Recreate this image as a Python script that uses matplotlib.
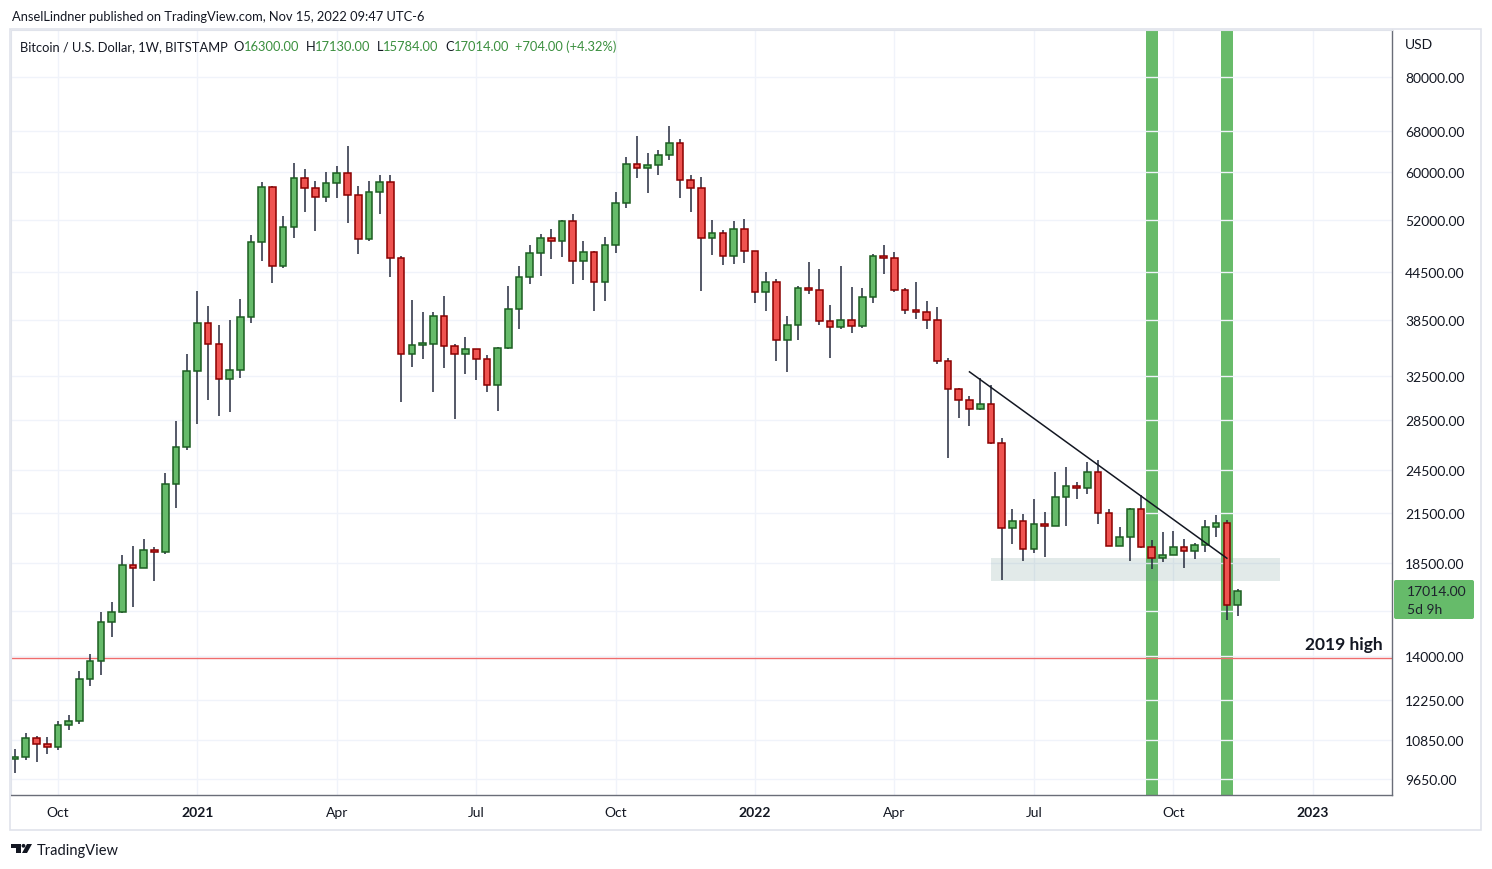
import numpy as np
import pandas as pd
import matplotlib
matplotlib.use("Agg")
import matplotlib.pyplot as plt
from matplotlib.patches import Rectangle, Polygon, Circle, FancyBboxPatch

plt.rcParams['font.family'] = ['Lato', 'DejaVu Sans']

# weekly BTCUSD (Bitstamp), week starting 2020-09-07
first_week = '2020-09-07'
opens = [10260, 10330, 10920, 10740, 10640, 11360, 11500, 13030, 13780, 15480,
         15960, 18400, 18200, 19250, 19100, 23470, 26250, 33000, 38150, 35800,
         32200, 33100, 38800, 48600, 57400, 45250, 50900, 58950, 57300, 55700,
         58100, 59800, 56100, 49100, 56600, 58300, 46400, 34700, 35700, 35800,
         38900, 35560, 34700, 35230, 34190, 31650, 35340, 39800, 43800, 47100,
         49230, 48750, 51800, 45900, 47180, 43110, 48150, 54650, 61460, 60700,
         61300, 63150, 65550, 58580, 57190, 49300, 50040, 46600, 50650, 47300,
         41800, 43110, 36170, 37840, 42300, 42050, 38300, 37600, 38420, 37730,
         41170, 46700, 46300, 42050, 39600, 39400, 38420, 33950, 31220, 30200,
         29380, 29830, 26530, 20540, 20970, 19270, 20780, 20700, 22550, 23300,
         23200, 24300, 21490, 19500, 19980, 21800, 19400, 18760, 18980, 19400,
         19200, 19550, 20600, 20850, 16300]
highs = [10560, 11080, 11000, 10950, 11480, 11700, 13350, 14060, 15960, 16450,
         18940, 19450, 19870, 19400, 24250, 28370, 34700, 41950, 40100, 37900,
         38500, 40960, 49660, 58300, 57500, 52570, 61750, 60600, 58500, 60000,
         61200, 64900, 57600, 58500, 59500, 59500, 46600, 40850, 39400, 39400,
         41320, 35770, 36530, 35230, 34630, 35450, 42600, 45250, 48170, 49850,
         50600, 52000, 52850, 48750, 47300, 49400, 56570, 62840, 66950, 63580,
         64080, 69000, 66300, 59500, 59200, 52000, 50500, 51850, 52200, 47400,
         44380, 43500, 38900, 42600, 45800, 44800, 40240, 45200, 42500, 42300,
         46850, 48200, 47200, 42400, 43100, 40700, 40000, 34250, 31300, 30600,
         32250, 31600, 26950, 21800, 21450, 22460, 21600, 24300, 24700, 23600,
         25100, 25250, 21800, 20600, 21850, 22730, 19830, 20330, 20400, 19890,
         19650, 21050, 21400, 21050, 17130]
lows = [9830, 10220, 10150, 10400, 10530, 11200, 11400, 12770, 13200, 14800,
        15900, 16200, 18200, 17550, 19000, 21830, 26000, 28130, 30200, 28800,
        29150, 32280, 38100, 45900, 42960, 45000, 49240, 53300, 50300, 54900,
        55500, 51550, 46900, 48800, 52950, 43750, 30030, 33380, 34200, 30960,
        33290, 28540, 32690, 32100, 30960, 29240, 35230, 37450, 42900, 43900,
        46200, 46500, 42870, 43430, 39550, 40750, 47000, 53900, 59030, 56450,
        59550, 62260, 55600, 53300, 42000, 46800, 45450, 45550, 45700, 40500,
        39550, 34000, 32900, 36200, 41600, 37900, 34330, 37400, 37000, 37520,
        40500, 44200, 41850, 39200, 38550, 37450, 33700, 25400, 28600, 27980,
        29300, 26500, 17570, 19600, 18600, 19050, 18850, 20700, 20700, 22460,
        22800, 20780, 19500, 19450, 18600, 19340, 18150, 18550, 18980, 18200,
        18700, 19150, 20000, 15560, 15784]
closes = [10330, 10920, 10740, 10640, 11360, 11500, 13030, 13780, 15480, 15960,
          18400, 18200, 19250, 19100, 23470, 26250, 33000, 38150, 35800, 32200,
          33100, 38800, 48600, 57400, 45250, 50900, 58950, 57300, 55700, 58100,
          59800, 56100, 49100, 56600, 58300, 46400, 34700, 35700, 35800, 38900,
          35560, 34700, 35230, 34190, 31650, 35340, 39800, 43800, 47100, 49230,
          48750, 51800, 45900, 47180, 43110, 48150, 54650, 61460, 60700, 61300,
          63150, 65550, 58580, 57190, 49300, 50040, 46600, 50650, 47300, 41800,
          43110, 36170, 37840, 42300, 42050, 38300, 37600, 38420, 37730, 41170,
          46700, 46300, 42050, 39600, 39400, 38420, 33950, 31220, 30200, 29380,
          29830, 26530, 20540, 20970, 19270, 20780, 20700, 22550, 23300, 23200,
          24300, 21490, 19500, 19980, 21800, 19400, 18760, 18980, 19400, 19200,
          19550, 20600, 20850, 16310, 17014]

price_ticks = [80000, 68000, 60000, 52000, 44500, 38500, 32500, 28500, 24500,
               21500, 18500, 16000, 14000, 12250, 10850, 9650]
high_2019 = 13880
trend_dates = ['2022-05-23', '2022-11-07']
trend_prices = [32900, 18770]
zone_dates = ['2022-06-06', '2022-12-12']
zone_prices = [17520, 18770]
band_dates = ['2022-09-19', '2022-11-07']

W, H = 1492, 870
fig = plt.figure(figsize=(W / 100, H / 100), dpi=100)
fig.patch.set_facecolor('white')

weeks = pd.date_range(first_week, periods=129, freq='7D')
def widx(d):
    return int(np.where(weeks == pd.Timestamp(d))[0][0])

n = len(closes)
x = np.arange(n)
o = np.array(opens, float); c = np.array(closes, float)
h = np.array(highs, float); l = np.array(lows, float)
up = c >= o

ax = fig.add_axes([11 / W, (H - 796) / H, (1392 - 11) / W, (796 - 31) / H])
ax.set_yscale('log')

# highlighted weeks
for d in band_dates:
    i = widx(d)
    ax.axvspan(i - 0.55, i + 0.55, color='#68bb6a', lw=0, zorder=0.5)
# support zone
ax.fill_between([widx(zone_dates[0]), widx(zone_dates[1])], zone_prices[0], zone_prices[1],
                color='#5f8f8a', alpha=0.18, lw=0, zorder=0.6)

ax.axhline(high_2019, color='#ef6c6c', lw=1, zorder=0.7)
ax.vlines(x, l, h, color='#262b3e', lw=1.1, zorder=1)
body_lo = np.minimum(o, c)
body_h = np.maximum(np.abs(c - o), body_lo * 0.004)
ax.bar(x[up], body_h[up], bottom=body_lo[up], width=0.62, color='#66bb6a',
       edgecolor='#1b5e20', linewidth=1.1, zorder=2)
ax.bar(x[~up], body_h[~up], bottom=body_lo[~up], width=0.62, color='#ef5350',
       edgecolor='#8b0000', linewidth=1.1, zorder=2)

ax.plot([widx(d) for d in trend_dates], trend_prices, color='#131722', lw=1.1, zorder=3)
ax.annotate('2019 high', xy=(1.0, high_2019), xycoords=('axes fraction', 'data'),
            xytext=(-9, 6), textcoords='offset pixels', ha='right', va='bottom',
            fontsize=12.5, fontweight='bold', color='#131722')

# axes
ax.yaxis.tick_right()
ax.set_yticks(price_ticks)
ax.set_yticklabels(['' if p == 16000 else '%.2f' % p for p in price_ticks])
ax.yaxis.set_minor_locator(matplotlib.ticker.NullLocator())
xt, xl = [], []
for i in range(1, len(weeks)):
    if weeks[i].month in (1, 4, 7, 10) and weeks[i].month != weeks[i - 1].month:
        xt.append(i)
        xl.append(str(weeks[i].year) if weeks[i].month == 1 else weeks[i].strftime('%b'))
ax.set_xticks(xt)
ax.set_xticklabels(xl)
for t in ax.get_xticklabels():
    if t.get_text().isdigit():
        t.set_fontweight('bold')
ax.set_ylim(9200, 92100)
ax.set_xlim(-0.38, 128.4)
ax.tick_params(axis='y', length=0, pad=9.5, labelsize=10, labelcolor='#131722')
ax.tick_params(axis='x', length=0, pad=8, labelsize=10, labelcolor='#131722')
ax.grid(True, color='#f0f3fa', lw=1)
ax.set_axisbelow(True)
for s in ['left', 'top']:
    ax.spines[s].set_color('#e0e3eb')
for s in ['right', 'bottom']:
    ax.spines[s].set_color('#6a6d78')
    ax.spines[s].set_linewidth(1)

# overlay for frame, header and labels
ov = fig.add_axes([0, 0, 1, 1], zorder=5)
ov.set_xlim(0, W); ov.set_ylim(H, 0); ov.axis('off'); ov.patch.set_alpha(0)
ov.add_patch(Rectangle((10, 30), 1471, 801, fill=False, ec='#e0e3eb', lw=1.2))
ov.text(12, 17, 'AnselLindner published on TradingView.com, Nov 15, 2022 09:47 UTC-6',
        fontsize=9.3, color='#131722', va='center')
green = '#3a8f3e'
prev = ov.text(20, 47, 'Bitcoin / U.S. Dollar, 1W, BITSTAMP', fontsize=9.3,
               color='#131722', va='center')
chg = c[-1] - c[-2]
parts = [('O', opens[-1]), ('H', highs[-1]), ('L', lows[-1]), ('C', closes[-1])]
for k, v in parts:
    prev = ov.annotate(k, xy=(1, 0.5), xycoords=prev, xytext=(6, 0), textcoords='offset pixels',
                       fontsize=9.3, color='#131722', va='center')
    prev = ov.annotate('%.2f' % v, xy=(1, 0.5), xycoords=prev, xytext=(0, 0),
                       textcoords='offset pixels', fontsize=9.3, color=green, va='center')
ov.annotate('+%.2f (+%.2f%%)' % (chg, chg / c[-2] * 100), xy=(1, 0.5), xycoords=prev,
            xytext=(6, 0), textcoords='offset pixels', fontsize=9.3, color=green, va='center')
ov.text(1405, 45, 'USD', fontsize=10, color='#131722', va='center')
ov.add_patch(FancyBboxPatch((1394, 581), 80, 39, boxstyle='round,pad=0,rounding_size=2',
                            fc='#66bb6a', ec='none'))
ov.text(1407, 592, '%.2f' % closes[-1], fontsize=10, color='#1e222d', va='center')
ov.text(1407, 610, '5d 9h', fontsize=10, color='#1e222d', va='center')
# logo
ov.add_patch(Polygon([(11, 845), (21, 845), (21, 854), (16, 854), (16, 849), (11, 849)],
                     closed=True, fc='#131722', ec='none'))
ov.add_patch(Circle((23.5, 846.8), 1.9, fc='#131722', ec='none'))
ov.add_patch(Polygon([(27, 845), (32, 845), (27, 854), (22, 854)], closed=True,
                     fc='#131722', ec='none'))
ov.text(37, 851, 'TradingView', fontsize=10.5, color='#131722', va='center')

fig.savefig('out.png', dpi=100)
